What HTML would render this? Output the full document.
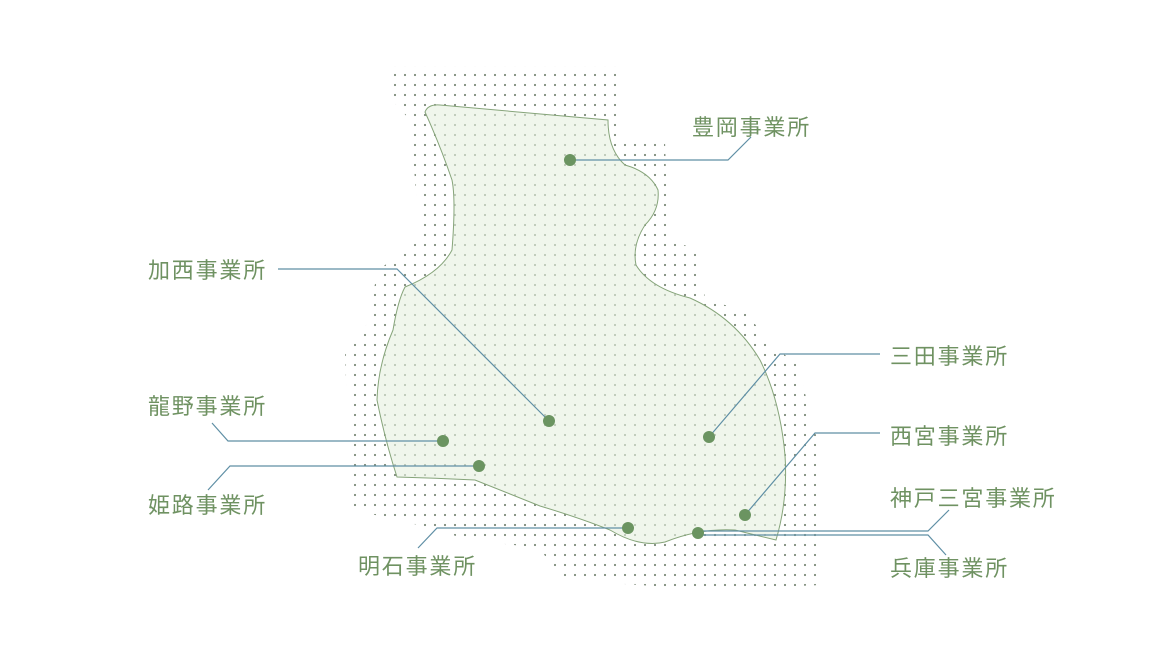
<!DOCTYPE html>
<html><head><meta charset="utf-8"><style>
html,body{margin:0;padding:0;background:#fff;width:1160px;height:650px;overflow:hidden}
text{font-family:"Liberation Sans","Noto Sans CJK JP",sans-serif;font-size:22px;fill:#6f9262;letter-spacing:1.8px}
</style></head><body>
<svg width="1160" height="650" viewBox="0 0 1160 650" xmlns="http://www.w3.org/2000/svg">
<defs>
<pattern id="dots" x="0" y="0" width="10" height="10" patternUnits="userSpaceOnUse">
<circle cx="5" cy="5" r="1.1" fill="#7d8a79"/>
</pattern>
</defs>
<path d="M392,66 L616,66 L618,140 L665,140 L668,240 L700,250 L705,300 L745,310 L770,345 L800,365 L810,420 L822,450 L822,585 L700,590 L640,585 L560,580 L540,548 L470,540 L400,520 L350,510 L345,350 L365,330 L378,270 L420,240 L410,120 L392,100 Z" fill="url(#dots)"/>
<path d="M425,112 Q428,104 440,105 L608,120 Q608,150 625,165 Q650,172 658,190 Q660,210 645,225 Q632,245 636,265 Q650,288 690,298 Q735,318 760,360 Q780,400 785,455 Q788,500 776,540 Q755,535 735,530 Q700,528 665,542 Q640,548 610,530 Q580,518 540,506 Q500,490 475,480 Q435,478 397,477 Q385,440 377,400 Q378,365 393,330 Q398,300 405,287 Q440,273 452,250 Q456,200 452,180 Q440,145 425,112 Z" fill="#e6f0df" fill-opacity="0.6" stroke="#86a47a" stroke-width="1"/>
<g fill="none" stroke="#5f8fa5" stroke-width="1.2">
<polyline points="570,160 728,160 751,137"/>
<polyline points="278,269 397,269 549,421"/>
<polyline points="212,423 228,441 443,441"/>
<polyline points="479,466 230,466 208,490"/>
<polyline points="709,437 780,354 880,354"/>
<polyline points="745,515 815,433 880,433"/>
<polyline points="698,531 928,531 949,510"/>
<polyline points="698,535 928,535 946,555"/>
<polyline points="628,528 437,528 418,548"/>
</g>
<g fill="#6b9461">
<circle cx="570" cy="160" r="6"/>
<circle cx="549" cy="421" r="6"/>
<circle cx="443" cy="441" r="6"/>
<circle cx="479" cy="466" r="6"/>
<circle cx="709" cy="437" r="6"/>
<circle cx="745" cy="515" r="6"/>
<circle cx="628" cy="528" r="6"/>
<circle cx="698" cy="533" r="6"/>
</g>
<text x="692" y="135">豊岡事業所</text>
<text x="148" y="278">加西事業所</text>
<text x="148" y="414">龍野事業所</text>
<text x="148" y="513">姫路事業所</text>
<text x="358" y="574">明石事業所</text>
<text x="890" y="364">三田事業所</text>
<text x="890" y="444">西宮事業所</text>
<text x="890" y="506">神戸三宮事業所</text>
<text x="890" y="576">兵庫事業所</text>
</svg>
</body></html>
